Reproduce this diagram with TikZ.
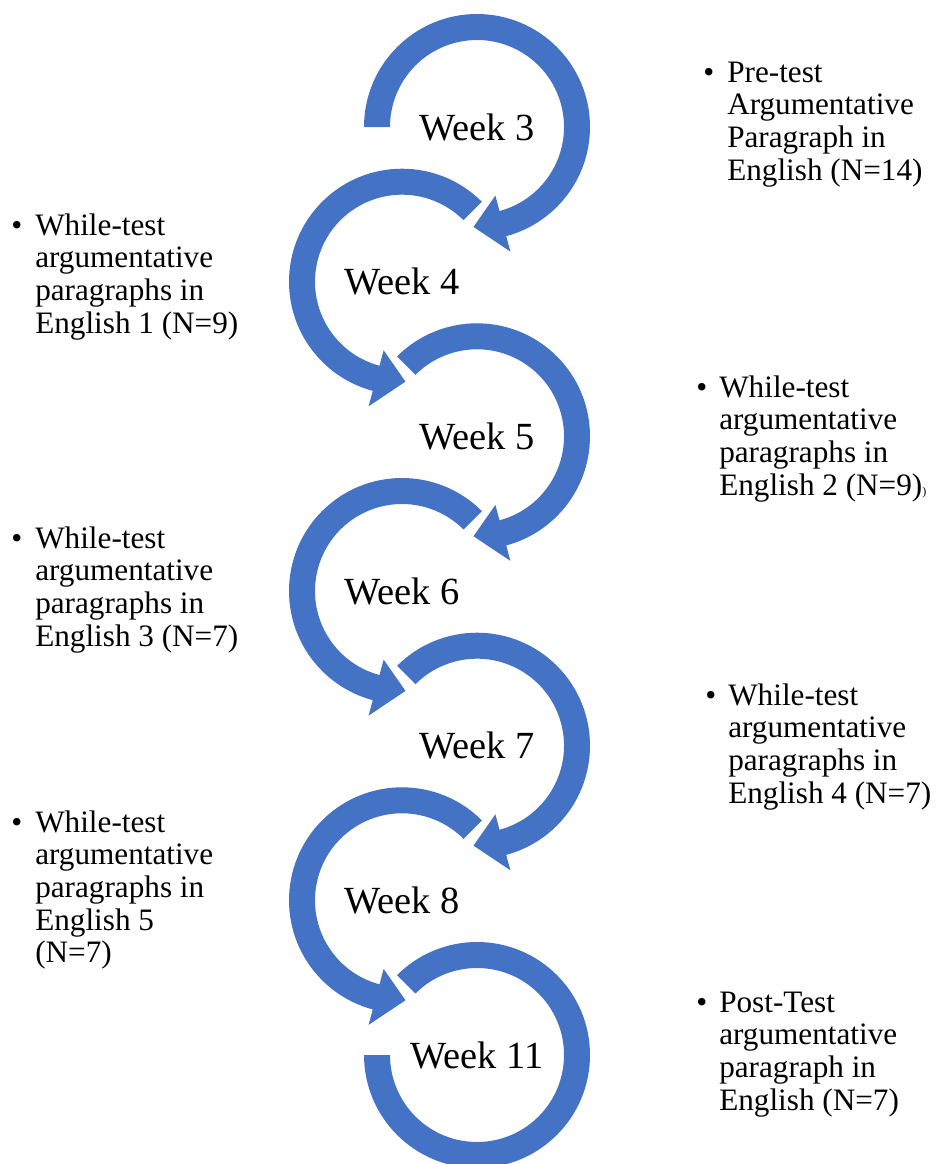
\documentclass[tikz,border=0pt]{standalone}
\usepackage{fontspec}
\setmainfont{Liberation Serif}
\definecolor{arrowblue}{HTML}{4472C4}
\newcommand{\blk}[1]{\begin{tabular}[t]{@{}l@{}}#1\end{tabular}}
% clockwise ring arrow: from start angle #1 down to -75, arrowhead tip at -92
\newcommand{\cwarrow}[1]{%
  \fill[ringfill] (#1:113) arc[start angle=#1,end angle=-75,radius=113]
    -- (-75:129) -- (-92:100) -- (-75:71) -- (-75:87)
    arc[start angle=-75,end angle=#1,radius=87] -- cycle;}
% counter-clockwise ring arrow: from start angle #1 up to 255, arrowhead tip at 272
\newcommand{\ccwarrow}[1]{%
  \fill[ringfill] (#1:113) arc[start angle=#1,end angle=255,radius=113]
    -- (255:129) -- (272:100) -- (255:71) -- (255:87)
    arc[start angle=255,end angle=#1,radius=87] -- cycle;}
\begin{document}
\begin{tikzpicture}[x=0.75pt,y=0.75pt,
  ringfill/.style={fill=arrowblue},
  weeklabel/.style={font=\fontsize{28.8}{30}\selectfont, inner sep=0pt, anchor=base},
  itemtext/.style={font=\fontsize{23.4}{24.5}\selectfont, inner sep=0pt, anchor=base west},
  bulletmark/.style={font=\fontsize{23.4}{24.5}\selectfont, inner sep=0pt, anchor=base west}]
\useasboundingbox (0,0) rectangle (937,-1164);
% circle centres
\coordinate (c3) at (477,-127);
\coordinate (c4) at (402,-281.7);
\coordinate (c5) at (477,-436.3);
\coordinate (c6) at (402,-591);
\coordinate (c7) at (477,-745.7);
\coordinate (c8) at (402,-900.3);
\coordinate (c11) at (477,-1055);
% ring arrows
\begin{scope}[shift={(c3)}]\cwarrow{180}\end{scope}
\begin{scope}[shift={(c4)}]\ccwarrow{45}\end{scope}
\begin{scope}[shift={(c5)}]\cwarrow{135}\end{scope}
\begin{scope}[shift={(c6)}]\ccwarrow{45}\end{scope}
\begin{scope}[shift={(c7)}]\cwarrow{135}\end{scope}
\begin{scope}[shift={(c8)}]\ccwarrow{45}\end{scope}
\begin{scope}[shift={(c11)}]
  \fill[ringfill] (180:113) arc[start angle=180,end angle=495,radius=113]
    -- (495:87) arc[start angle=495,end angle=180,radius=87] -- cycle;
\end{scope}
% week labels
\node[weeklabel] (w3) at ([yshift=-13*0.75pt]c3) {Week 3};
\node[weeklabel] (w4) at ([yshift=-13*0.75pt]c4) {Week 4};
\node[weeklabel] (w5) at ([yshift=-13*0.75pt]c5) {Week 5};
\node[weeklabel] (w6) at ([yshift=-13*0.75pt]c6) {Week 6};
\node[weeklabel] (w7) at ([yshift=-13*0.75pt]c7) {Week 7};
\node[weeklabel] (w8) at ([yshift=-13*0.75pt]c8) {Week 8};
\node[weeklabel] (w11) at ([yshift=-13*0.75pt]c11) {Week 11};
% side texts
\node[bulletmark] (b1) at (703,-82) {•};
\node[itemtext] (t1) at (727,-82) {\blk{Pre-test\\Argumentative\\Paragraph in\\English (N=14)}};
\node[bulletmark] (b2) at (11,-235) {•};
\node[itemtext] (t2) at (35,-235) {\blk{While-test\\argumentative\\paragraphs in\\English 1 (N=9)}};
\node[bulletmark] (b3) at (696,-397) {•};
\node[itemtext] (t3) at (719,-397) {\blk{While-test\\argumentative\\paragraphs in\\English 2 (N=9){\fontsize{9}{10}\selectfont)}}};
\node[bulletmark] (b4) at (11,-548) {•};
\node[itemtext] (t4) at (35,-548) {\blk{While-test\\argumentative\\paragraphs in\\English 3 (N=7)}};
\node[bulletmark] (b5) at (705,-705) {•};
\node[itemtext] (t5) at (728,-705) {\blk{While-test\\argumentative\\paragraphs in\\English 4 (N=7)}};
\node[bulletmark] (b6) at (11,-832) {•};
\node[itemtext] (t6) at (35,-832) {\blk{While-test\\argumentative\\paragraphs in\\English 5\\(N=7)}};
\node[bulletmark] (b7) at (696,-1012) {•};
\node[itemtext] (t7) at (719,-1012) {\blk{Post-Test\\argumentative\\paragraph in\\English (N=7)}};
\end{tikzpicture}
\end{document}
